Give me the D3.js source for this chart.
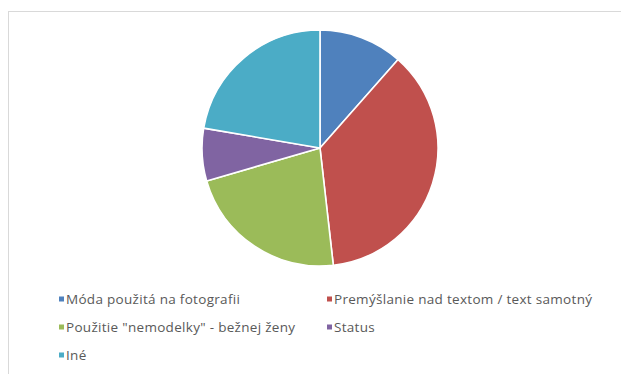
<!DOCTYPE html>
<html>
<head>
<meta charset="utf-8">
<script src="https://cdn.jsdelivr.net/npm/d3@7"></script>
<style>
  html, body { margin: 0; padding: 0; background: #ffffff; }
  svg { display: block; }
  .legend text { font-family: "Open Sans", "Liberation Sans", sans-serif; fill: #595959; letter-spacing: 0.3px; }
</style>
</head>
<body>
<svg id="chart" width="621" height="374"></svg>
<script>
// Answer categories and their counts
const categories = [
  "Móda použitá na fotografii",
  "Premýšlanie nad textom / text samotný",
  "Použitie \"nemodelky\" - bežnej ženy",
  "Status",
  "Iné"
];
const values = [16, 51, 31, 10, 31];
const colors = ["#4F81BD", "#C0504D", "#9BBB59", "#8064A2", "#4BACC6"];

const svg = d3.select("#chart");

// Chart area frame
svg.append("rect")
  .attr("x", 8.5).attr("y", 11.5)
  .attr("width", 700).attr("height", 500)
  .attr("fill", "#ffffff")
  .attr("stroke", "#d9d9d9")
  .attr("stroke-width", 1);

const cx = 320, cy = 148, radius = 118;

const pie = d3.pie().sort(null).value(d => d.value).startAngle(0).endAngle(2 * Math.PI);
const arc = d3.arc().innerRadius(0).outerRadius(radius);

const data = categories.map((c, i) => ({ name: c, value: values[i], color: colors[i] }));

svg.append("g")
  .attr("transform", `translate(${cx},${cy})`)
  .selectAll("path")
  .data(pie(data))
  .join("path")
  .attr("d", arc)
  .attr("fill", d => d.data.color)
  .attr("stroke", "#ffffff")
  .attr("stroke-width", 1.6)
  .attr("stroke-linejoin", "round");

// Legend: two columns, three rows
const colX = [59, 327];
const rowY = [299, 327, 355];
const legend = svg.append("g").attr("class", "legend");
data.forEach((d, i) => {
  const x = colX[i % 2], y = rowY[Math.floor(i / 2)];
  const g = legend.append("g").attr("transform", `translate(${x},${y})`);
  g.append("rect")
    .attr("x", 0).attr("y", -2.5)
    .attr("width", 5).attr("height", 5)
    .attr("fill", d.color);
  g.append("text")
    .attr("x", 7).attr("y", 0)
    .attr("dy", "0.35em")
    .attr("font-size", 13.5)
    .text(d.name);
});
</script>
</body>
</html>
